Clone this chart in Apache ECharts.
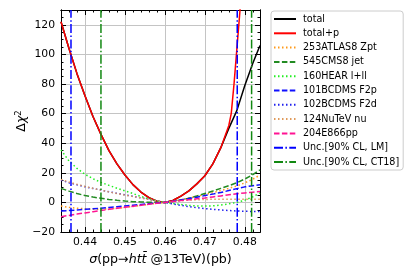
<!DOCTYPE html>
<html>
<head>
<meta charset="utf-8">
<script src="https://cdn.jsdelivr.net/npm/echarts@6/dist/echarts.min.js"></script>
<style>html,body{margin:0;padding:0;background:#fff}#c{width:420px;height:280px}</style>
</head>
<body>
<div id="c"></div>
<script>
// ---- data ----
const xs = [0.434,0.436,0.438,0.440,0.442,0.444,0.446,0.448,0.450,0.452,0.454,0.456,0.458,0.460,0.462,0.464,0.466,0.468,0.470,0.472,0.474,0.476,0.478,0.480,0.482,0.4838];
const total = [122,104,87,72,58,46,35,26,18.5,12,7,3.2,0.8,0,1.3,4.3,7.8,12.5,18,26,37,50,62,79,94,106];
const xsTotalP = [0.434,0.436,0.438,0.440,0.442,0.444,0.446,0.448,0.450,0.452,0.454,0.456,0.458,0.460,0.462,0.464,0.466,0.468,0.470,0.472,0.474,0.476,0.4766,0.4773,0.4779,0.4788,0.4795];
const totalP = [122,104,87,72,58,46,35,26,18.5,12,7,3.2,0.8,0,1.3,4.3,7.8,12.5,18,26,37,52,60,80,100,130,160];
const atlasZpt = [-2.5,-3.3,-3.9,-4.3,-4.6,-4.6,-4.4,-4.0,-3.4,-2.7,-2.0,-1.3,-0.6,0,0.8,1.8,2.9,4.1,5.3,6.6,8.0,9.5,11.1,13.2,15.7,18.5];
const cmsJet = [9.5,7.6,6.0,4.6,3.6,2.8,2.0,1.4,0.9,0.5,0.3,0.1,0,0,0.6,1.6,2.8,4.3,6.0,7.7,9.5,11.3,13.3,15.8,18.8,22];
const hera = [35.5,28,23,19,16,13.5,11.5,9.6,7.8,6,4,2.3,1,0,-0.7,-1.4,-2,-2.4,-2.5,-2.3,-1.8,-1,0,1.5,3.8,6.5];
const bcdmsF2p = [-5.8,-5.5,-5.1,-4.7,-4.3,-3.9,-3.4,-2.9,-2.4,-1.9,-1.4,-0.9,-0.4,0,0.8,1.7,2.6,3.5,4.6,5.6,6.7,8,9.3,10.5,11.3,12];
const bcdmsF2d = [15,13.3,11.9,10.6,9.4,8.3,7.2,6.1,5.1,4.1,3.0,2.0,1.0,0,-1.0,-2.0,-2.9,-3.6,-4.2,-4.7,-5.1,-5.5,-5.8,-6.0,-6.1,-6.2];
const nutev = [15.5,13.8,12.2,10.8,9.5,8.3,7.1,6.0,5.0,4.0,3.0,2.0,1.0,0,0.6,1.1,1.5,1.8,2.0,2.1,2.2,2.2,2.2,2.2,2.2,2.2];
const e866 = [-9.7,-8.8,-7.9,-7.1,-6.3,-5.5,-4.7,-4.0,-3.3,-2.6,-1.9,-1.2,-0.6,0,0.6,1.2,1.8,2.4,3.0,3.7,4.4,5.1,5.8,6.4,6.9,7.3];
const uncLM = [0.4365, 0.4781];
const uncCT18 = [0.4440, 0.4817];
const seriesNames = ['total','total+p','253ATLAS8 Zpt','545CMS8 jet','160HEAR l+ll','101BCDMS F2p','102BCDMS F2d','124NuTeV nu','204E866pp','Unc.[90% CL, LM]','Unc.[90% CL, CT18]'];
const xMin = 0.434, xMax = 0.4838, yMin = -20, yMax = 130;

// ---- chart ----
const zip = (a, b) => a.map((x, i) => [x, b[i]]);
const DOT = [1.5, 2.5], DASH = [5.5, 2.4], DASHDOT = [9, 2.4, 1.5, 2.4];
function curve(name, xv, yv, color, type) {
  return {
    name, type: 'line', data: zip(xv, yv), symbol: 'circle', showSymbol: false, smooth: false,
    clip: true, xAxisIndex: 0, yAxisIndex: 0,
    lineStyle: { color, width: 1.5, type }, itemStyle: { color }
  };
}
function vlines(name, vals, color) {
  // each vertical line spans the full y range; '-' breaks the polyline between them
  const data = [];
  vals.forEach((v, i) => {
    if (i) data.push(['-', '-']);
    data.push([v, yMin], [v, yMax]);
  });
  return {
    name, type: 'line', data, symbol: 'circle', showSymbol: false, connectNulls: false,
    xAxisIndex: 0, yAxisIndex: 0,
    lineStyle: { color, width: 1.5, type: DASHDOT }, itemStyle: { color }
  };
}
const font = 'DejaVu Sans';
const baseAxis = {
  axisLine: { show: true, onZero: false, lineStyle: { color: '#000', width: 1 } },
  splitLine: { show: false }, axisLabel: { show: false }
};
function xAx(pos, minor, labels) {
  const a = Object.assign({}, baseAxis, {
    type: 'value', position: pos, min: xMin, max: xMax,
    axisTick: { show: true, inside: true, length: minor ? 2.5 : 5, lineStyle: { color: '#000', width: 1 } }
  });
  if (minor) a.interval = 0.002; else a.splitNumber = 5;
  if (!minor && pos === 'bottom') a.splitLine = { show: true, lineStyle: { color: '#c4c4c4', width: 1 } };
  if (labels) a.axisLabel = {
    show: true, color: '#000', fontFamily: font, fontSize: 10.8, margin: 5,
    showMinLabel: true, showMaxLabel: true,
    formatter: v => { const k = Math.round(v * 100); return Math.abs(v * 100 - k) < 1e-6 ? (k / 100).toFixed(2) : ''; }
  };
  return a;
}
function yAx(pos, minor, labels) {
  const a = Object.assign({}, baseAxis, {
    type: 'value', position: pos, min: yMin, max: yMax, interval: minor ? 5 : 20,
    axisTick: { show: true, inside: true, length: minor ? 2.5 : 5, lineStyle: { color: '#000', width: 1 } }
  });
  if (!minor && pos === 'left') a.splitLine = { show: true, lineStyle: { color: '#c4c4c4', width: 1 } };
  if (labels) a.axisLabel = {
    show: true, color: '#000', fontFamily: font, fontSize: 10.8, margin: 6, showMaxLabel: false,
    formatter: v => (v > 125 ? '' : String(v).replace('-', '\u2212'))
  };
  return a;
}
const TF = 12.6;
const xA = [xAx('bottom', true, true), xAx('bottom', false, false), xAx('top', true, false), xAx('top', false, false)];
xA[0].name = '{i|\u03c3}(pp\u2192{i|ht}{i|t\u0304} @13TeV)(pb)';
xA[0].nameLocation = 'middle';
xA[0].nameGap = 18;
xA[0].nameTextStyle = { color: '#000', fontFamily: font, fontSize: TF, rich: { i: { fontStyle: 'italic', fontFamily: font, fontSize: TF, color: '#000' } } };
const yA = [yAx('left', false, true), yAx('left', true, false), yAx('right', false, false), yAx('right', true, false)];
yA[0].name = '\u0394{i|\u03c7}{s|2}';
yA[0].nameLocation = 'middle';
yA[0].nameRotate = 90;
yA[0].nameGap = 30;
yA[0].nameTextStyle = { color: '#000', fontFamily: font, fontSize: TF, rich: { i: { fontStyle: 'italic', fontFamily: font, fontSize: TF, color: '#000' }, s: { fontFamily: font, fontSize: 8.5, color: '#000', verticalAlign: 'top', padding: [0, 0, 6, 0] } } };

const chart = echarts.init(document.getElementById('c'), null, { renderer: 'canvas' });
chart.setOption({
  animation: false,
  backgroundColor: '#fff',
  grid: { left: 61, right: 160, top: 10, bottom: 48, containLabel: false },
  legend: {
    orient: 'vertical', left: 271, top: 11, data: seriesNames,
    itemWidth: 22, itemHeight: 10, itemGap: 4.3, padding: [3, 4, 3, 2],
    borderColor: '#cccccc', borderWidth: 1, borderRadius: 3,
    itemStyle: { opacity: 0 },
    textStyle: { color: '#000', fontFamily: font, fontSize: 9.6, padding: [0, 0, 0, 2] }
  },
  xAxis: xA,
  yAxis: yA,
  series: [
    curve(seriesNames[0], xs, total, '#000000', 'solid'),
    curve(seriesNames[1], xsTotalP, totalP, '#ff0000', 'solid'),
    curve(seriesNames[2], xs, atlasZpt, '#ff9a1a', DOT),
    curve(seriesNames[3], xs, cmsJet, '#228b22', DASH),
    curve(seriesNames[4], xs, hera, '#22ee22', DOT),
    curve(seriesNames[5], xs, bcdmsF2p, '#1010ff', DASH),
    curve(seriesNames[6], xs, bcdmsF2d, '#2020ee', DOT),
    curve(seriesNames[7], xs, nutev, '#e09a5a', DOT),
    curve(seriesNames[8], xs, e866, '#ff1493', DASH),
    vlines(seriesNames[9], uncLM, '#0000ff'),
    vlines(seriesNames[10], uncCT18, '#118811')
  ]
});
</script>
</body>
</html>
